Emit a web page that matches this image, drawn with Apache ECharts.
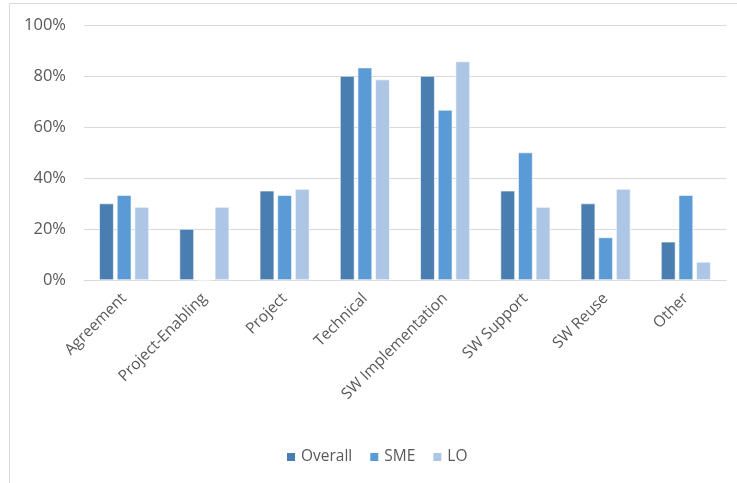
<!DOCTYPE html>
<html>
<head>
<meta charset="utf-8">
<script src="https://cdn.jsdelivr.net/npm/echarts@6/dist/echarts.min.js"></script>
<style>
  html, body { margin: 0; padding: 0; background: #fff; }
  #chart { width: 737px; height: 483px; }
</style>
</head>
<body>
<div id="chart"></div>
<script>
// Share of respondents per category, by organisation group (percent)
const categories = ['Agreement', 'Project-Enabling', 'Project', 'Technical', 'SW Implementation', 'SW Support', 'SW Reuse', 'Other'];
const overall = [30, 20, 35, 80, 80, 35, 30, 15];
const sme = [33.3, 0, 33.3, 83.3, 66.7, 50, 16.7, 33.3];
const lo = [28.6, 28.6, 35.7, 78.6, 85.7, 28.6, 35.7, 7.1];
const seriesNames = ['Overall', 'SME', 'LO'];
const yTicks = [0, 20, 40, 60, 80, 100];

const colors = ['#4A7EB0', '#5B9BD5', '#ADC6E5'];
const font = 'Open Sans';
const textColor = '#595959';

const chart = echarts.init(document.getElementById('chart'), null, { renderer: 'canvas' });

const mkSeries = (name, data, i) => ({
  name: name,
  type: 'bar',
  data: data,
  barGap: '22%',
  barCategoryGap: '38%',
  itemStyle: { color: colors[i], borderColor: '#ffffff', borderWidth: 0.6 }
});

chart.setOption({
  animation: false,
  textStyle: { fontFamily: font },
  graphic: [{
    type: 'rect',
    shape: { x: 9.5, y: 3.5, width: 800, height: 600 },
    style: { fill: 'none', stroke: '#D9D9D9', lineWidth: 1 },
    silent: true
  }],
  grid: { left: 84, right: 11, top: 25, bottom: 203, containLabel: false },
  legend: {
    top: 444,
    left: 280,
    itemWidth: 10,
    itemHeight: 10,
    itemGap: 16,
    icon: 'rect',
    textStyle: { color: textColor, fontSize: 15.5, fontFamily: font },
    data: seriesNames
  },
  xAxis: {
    type: 'category',
    data: categories,
    axisTick: { show: false },
    axisLine: { lineStyle: { color: '#D9D9D9', width: 1 } },
    axisLabel: { rotate: 45, interval: 0, margin: 16, color: textColor, fontSize: 15.5, fontFamily: font }
  },
  yAxis: {
    type: 'value',
    min: yTicks[0],
    max: yTicks[yTicks.length - 1],
    interval: yTicks[1] - yTicks[0],
    axisLine: { show: false },
    axisTick: { show: false },
    splitLine: { lineStyle: { color: '#D9D9D9', width: 1 } },
    axisLabel: { formatter: '{value}%', margin: 18, color: textColor, fontSize: 16.5, fontFamily: font }
  },
  series: [
    mkSeries(seriesNames[0], overall, 0),
    mkSeries(seriesNames[1], sme, 1),
    mkSeries(seriesNames[2], lo, 2)
  ]
});
</script>
</body>
</html>
